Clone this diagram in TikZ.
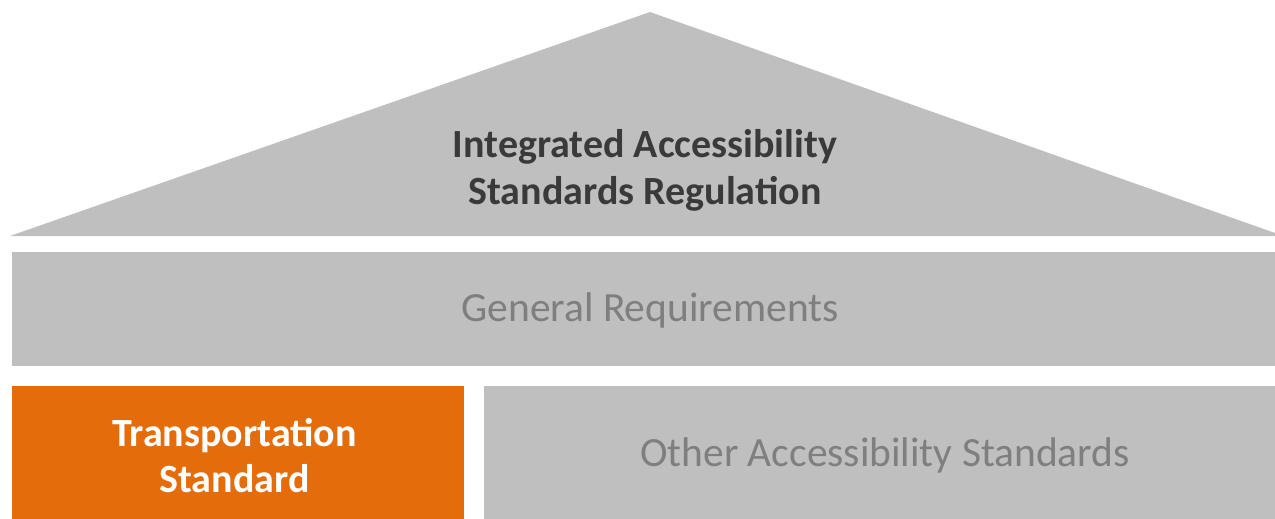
\documentclass[tikz,border=0pt]{standalone}
\usepackage{fontspec}
\setmainfont{Carlito}
\definecolor{boxgrey}{HTML}{BFBFBF}
\definecolor{boxorange}{HTML}{E46C0A}
\definecolor{titletext}{HTML}{3A3A3A}
\definecolor{softtext}{HTML}{7F7F7F}
\begin{document}
\begin{tikzpicture}[x=1pt,y=-1pt,
  block/.style={fill=boxgrey,draw=none},
  label/.style={align=center,inner sep=0pt}]
\useasboundingbox (0,0) rectangle (1275,519);
\fill[boxgrey] (10,236) -- (650,12) -- (1275,233) -- (1275,236) -- cycle;
\node[label,font=\fontsize{40}{47}\selectfont\bfseries,text=titletext] (roof) at (645,170) {Integrated Accessibility\\Standards Regulation};
\node[block,minimum width=1263pt,minimum height=114pt,inner sep=0pt,anchor=north west] (gen) at (12,252) {};
\node[label,font=\fontsize{41.5}{47}\selectfont,text=softtext] (gentext) at (650,310) {General Requirements};
\node[fill=boxorange,minimum width=452pt,minimum height=133pt,inner sep=0pt,anchor=north west] (trans) at (12,386) {};
\node[label,font=\fontsize{40}{46}\selectfont\bfseries,text=white] (transtext) at (234.5,456) {Transportation\\Standard};
\node[block,minimum width=791pt,minimum height=133pt,inner sep=0pt,anchor=north west] (other) at (484,386) {};
\node[label,font=\fontsize{41.5}{47}\selectfont,text=softtext] (othertext) at (885,455) {Other Accessibility Standards};
\end{tikzpicture}
\end{document}
